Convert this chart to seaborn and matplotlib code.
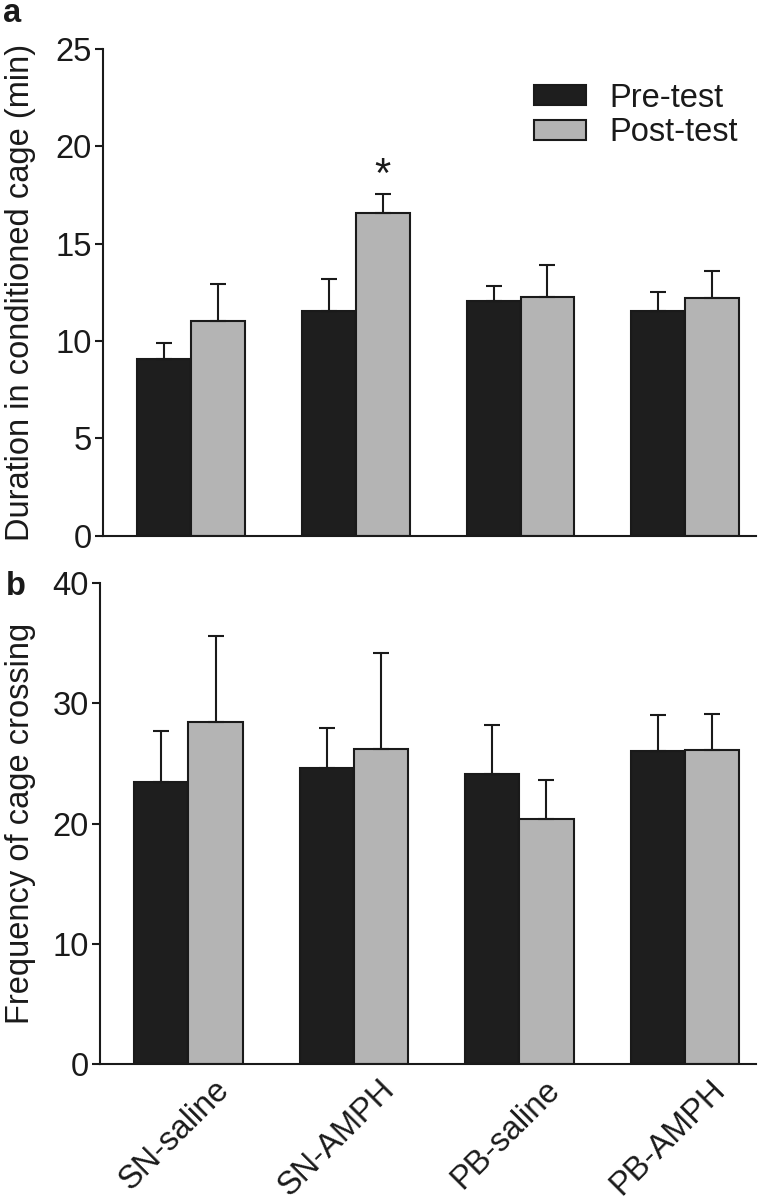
import numpy as np
import pandas as pd
import seaborn as sns
import matplotlib as mpl
import matplotlib.pyplot as plt
from matplotlib.patches import Patch
from matplotlib.transforms import ScaledTranslation

mpl.use('Agg')

groups = ['SN-saline', 'SN-AMPH', 'PB-saline', 'PB-AMPH']
phases = ['Pre-test', 'Post-test']

# panel a: duration in conditioned cage (min)
dur_pre = [9.05, 11.55, 12.05, 11.55]
dur_pre_err = [0.83, 1.65, 0.75, 0.95]
dur_post = [11.05, 16.57, 12.28, 12.19]
dur_post_err = [1.87, 0.98, 1.62, 1.41]

# panel b: frequency of cage crossing
cross_pre = [23.45, 24.65, 24.15, 26.05]
cross_pre_err = [4.2, 3.3, 4.05, 2.95]
cross_post = [28.4, 26.2, 20.4, 26.12]
cross_post_err = [7.2, 7.95, 3.25, 2.95]

BLACK = '#1e1e1e'
GREY = '#b4b4b4'
EDGE = '#1a1a1a'
FS = 23.5

sns.set_style('ticks')
plt.rcParams['font.family'] = ['Liberation Sans', 'DejaVu Sans']
plt.rcParams['axes.linewidth'] = 1.5
plt.rcParams['ytick.major.width'] = 1.5
plt.rcParams['ytick.major.size'] = 5.5
plt.rcParams['ytick.major.pad'] = 2.5
plt.rcParams['text.color'] = '#1a1a1a'
plt.rcParams['axes.labelcolor'] = '#1a1a1a'
plt.rcParams['ytick.color'] = '#1a1a1a'
plt.rcParams['xtick.color'] = '#1a1a1a'
plt.rcParams['axes.edgecolor'] = '#1a1a1a'


def long_table(pre, post):
    return pd.DataFrame({
        'group': groups * 2,
        'phase': [phases[0]] * 4 + [phases[1]] * 4,
        'value': list(pre) + list(post),
    })


def draw_panel(ax, pre, pre_err, post, post_err):
    sns.barplot(data=long_table(pre, post), x='group', y='value', hue='phase',
                order=groups, hue_order=phases, palette=[BLACK, GREY],
                width=0.655, gap=0, errorbar=None, saturation=1,
                edgecolor=EDGE, linewidth=1.5, legend=False, ax=ax)
    for cont, err in zip(ax.containers, [pre_err, post_err]):
        xs = [p.get_x() + p.get_width() / 2 for p in cont.patches]
        hs = [p.get_height() for p in cont.patches]
        ax.errorbar(xs, hs, yerr=[np.zeros(len(err)), err], fmt='none',
                    ecolor=EDGE, elinewidth=1.5, capsize=5.6, capthick=1.5,
                    zorder=1)
    ax.set_xlim(-0.535, 3.43)
    ax.set_xlabel('')
    sns.despine(ax=ax)
    ax.tick_params(axis='x', length=0)
    ax.tick_params(axis='y', labelsize=FS)


fig = plt.figure(figsize=(7.58, 12), dpi=100)
ax_a = fig.add_axes([0.1359, 0.5536, 0.8615, 0.4056])
ax_b = fig.add_axes([0.1319, 0.1131, 0.8654, 0.4013])

draw_panel(ax_a, dur_pre, dur_pre_err, dur_post, dur_post_err)
ax_a.set_ylim(0, 25)
ax_a.set_yticks([0, 5, 10, 15, 20, 25])
ax_a.set_xticklabels([])
ax_a.set_ylabel('Duration in conditioned cage (min)', fontsize=FS)
ax_a.yaxis.set_label_coords(-0.1026, 0.5)

# significance star over SN-AMPH post-test
star_bar = ax_a.containers[1].patches[1]
ax_a.text(star_bar.get_x() + star_bar.get_width() / 2,
          dur_post[1] + dur_post_err[1] + 0.35, '*',
          ha='center', va='baseline', fontsize=30)

handles = [Patch(facecolor=BLACK, edgecolor=EDGE, linewidth=1.5),
           Patch(facecolor=GREY, edgecolor=EDGE, linewidth=1.5)]
ax_a.legend(handles, phases, loc='upper left', bbox_to_anchor=(0.66, 0.931),
            frameon=False, fontsize=FS, borderpad=0, borderaxespad=0,
            handlelength=1.6, handleheight=0.6, handletextpad=0.72,
            labelspacing=0.12)

draw_panel(ax_b, cross_pre, cross_pre_err, cross_post, cross_post_err)
ax_b.set_ylim(0, 40)
ax_b.set_yticks([0, 10, 20, 30, 40])
ax_b.set_ylabel('Frequency of cage crossing', fontsize=FS)
ax_b.yaxis.set_label_coords(-0.0976, 0.5)
shift = ScaledTranslation(25 / 100, -5 / 100, fig.dpi_scale_trans)
for lab in ax_b.get_xticklabels():
    lab.set_rotation(45)
    lab.set_ha('right')
    lab.set_va('top')
    lab.set_rotation_mode('anchor')
    lab.set_fontsize(FS)
    lab.set_transform(lab.get_transform() + shift)

fig.text(0.004, 1 - 22 / 1200, 'a', fontsize=FS, fontweight='bold',
         ha='left', va='baseline')
fig.text(0.008, 1 - 595 / 1200, 'b', fontsize=FS, fontweight='bold',
         ha='left', va='baseline')

fig.savefig('out.png', dpi=100)
plt.close(fig)
